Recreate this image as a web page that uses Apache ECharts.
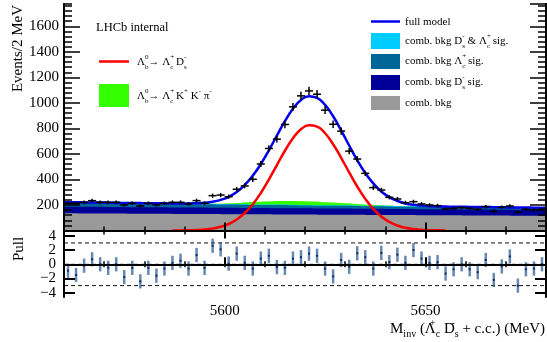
<!DOCTYPE html>
<html>
<head>
<meta charset="utf-8">
<script src="https://cdn.jsdelivr.net/npm/echarts@6.0.0/dist/echarts.min.js"></script>
<style>
  html, body { margin: 0; padding: 0; background: #fff; }
  #chart { width: 547px; height: 342px; }
</style>
</head>
<body>
<div id="chart"></div>
<script>
// Lambda_b -> Lambda_c Ds invariant mass fit with pull panel

// data: bin centres (2 MeV bins), event counts, pulls
const binCenters = [
  5561, 5563, 5565, 5567, 5569, 5571, 5573, 5575, 5577, 5579,
  5581, 5583, 5585, 5587, 5589, 5591, 5593, 5595, 5597, 5599,
  5601, 5603, 5605, 5607, 5609, 5611, 5613, 5615, 5617, 5619,
  5621, 5623, 5625, 5627, 5629, 5631, 5633, 5635, 5637, 5639,
  5641, 5643, 5645, 5647, 5649, 5651, 5653, 5655, 5657, 5659,
  5661, 5663, 5665, 5667, 5669, 5671, 5673, 5675, 5677, 5679
];
const eventCounts = [
  213, 213, 221, 234, 221, 221, 221, 200, 213, 192,
  213, 200, 213, 221, 221, 208, 234, 213, 273, 278,
  265, 323, 349, 401, 521, 643, 716, 831, 969, 1055,
  1094, 1068, 943, 833, 779, 622, 560, 448, 336, 317,
  260, 247, 218, 226, 208, 200, 195, 169, 174, 179,
  174, 166, 187, 153, 182, 192, 143, 166, 161, 166
];
const pullValues = [
  -0.9, -1.5, -0.2, 0.7, 0, -0.5, 0, -1.8, -0.5, -2.4,
  -0.5, -1.6, -0.6, 0.2, 0.5, -0.6, 1.3, -0.5, 2.6, 2.1,
  0.1, 1.5, 0.2, -0.6, 0.8, 1.2, -0.4, -0.5, 0.8, 1.0,
  1.5, 1.2, -0.6, -1.7, 0.6, -0.35, 1.55, 1.0, -0.6, 1.6,
  0.3, 1.35, 0.2, 2.0, 0.8, 0.2, 0.3, -1.3, -0.7, 0,
  -0.7, -1.1, 0.6, -2.2, -0.3, 1.1, -3.0, -0.7, -0.6, 0
];

// full model curve (blue)
const modelMass = [
  5560, 5561, 5563, 5565, 5567, 5569, 5571, 5573, 5575, 5577, 5579,
  5581, 5583, 5585, 5587, 5589, 5591, 5593, 5595, 5597, 5599,
  5601, 5603, 5605, 5607, 5609, 5611, 5613, 5615, 5617, 5619,
  5621, 5623, 5625, 5627, 5629, 5631, 5633, 5635, 5637, 5639,
  5641, 5643, 5645, 5647, 5649, 5651, 5653, 5655, 5657, 5659,
  5661, 5663, 5665, 5667, 5669, 5671, 5673, 5675, 5677, 5679, 5680
];
const fullModel = [
  222, 222, 221, 220, 219, 219, 218, 217, 216, 216, 215,
  214, 214, 213, 212, 212, 212, 214, 217, 225, 240,
  264, 302, 357, 430, 521, 628, 744, 857, 954, 1023,
  1053, 1040, 984, 895, 785, 666, 551, 451, 369, 306,
  261, 232, 212, 201, 195, 191, 189, 188, 186, 186,
  185, 184, 184, 183, 182, 181, 181, 180, 179, 178, 178
];

// signal component (red)
const signalMass = [
  5587, 5589, 5591, 5593, 5595, 5597, 5599, 5601, 5603, 5605,
  5607, 5609, 5611, 5613, 5615, 5617, 5619, 5621, 5623, 5625,
  5627, 5629, 5631, 5633, 5635, 5637, 5639, 5641, 5643, 5645,
  5647, 5649, 5651, 5653, 5655
];
const signalModel = [
  0.3, 0.8, 1.8, 3.9, 8, 15.7, 29, 51, 86, 137,
  206, 294, 399, 513, 625, 723, 793, 824, 814, 762,
  676, 570, 455, 345, 248, 169, 109, 67, 39, 21,
  11, 5.6, 2.6, 1.2, 0.5
];

// background components (4 MeV steps), stacked bottom to top
const bkgMass = [
  5560, 5564, 5568, 5572, 5576, 5580, 5584, 5588, 5592, 5596,
  5600, 5604, 5608, 5612, 5616, 5620, 5624, 5628, 5632, 5636,
  5640, 5644, 5648, 5652, 5656, 5660, 5664, 5668, 5672, 5676, 5680
];
const combBkg = [
  135, 134, 134, 133, 132, 132, 131, 130, 130, 129,
  128, 128, 127, 126, 126, 125, 124, 124, 123, 122,
  122, 121, 120, 120, 119, 118, 118, 117, 116, 116, 115
];
const combDsSig = [
  52, 52, 52, 51, 51, 51, 51, 50, 50, 50,
  50, 49, 49, 49, 49, 49, 48, 48, 48, 48,
  47, 47, 47, 47, 47, 46, 46, 46, 46, 46, 46
];
const combLcSig = [
  31, 31, 30, 30, 29, 28, 28, 27, 26, 26,
  25, 25, 24, 24, 23, 22, 22, 21, 21, 20,
  20, 19, 19, 18, 17, 17, 16, 16, 15, 14, 13
];
const combDsLcSig = [
  4, 4, 4, 4, 4, 4, 4, 4, 4, 4,
  4, 4, 4, 4, 4, 4, 4, 4, 4, 4,
  4, 4, 4, 4, 4, 4, 4, 4, 4, 4, 4
];
const partRecoBkg = [
  0, 0, 0, 0, 0, 0, 0, 0, 0, 0,
  4, 12, 21, 27, 30, 29, 26, 20, 13, 7,
  3, 1, 0, 0, 0, 0, 0, 0, 0, 0, 0
];
const bkgLayers = [combBkg, combDsSig, combLcSig, combDsLcSig, partRecoBkg];
const bkgColors = ["#999999", "#000099", "#006699", "#00ccff", "#33ff00"];

// axis ticks
const massTicks = [5600, 5650];
const pullTicks = [-4, -2, 0, 2, 4];
const pullLabelsA = [-4, 0, 4];
const pullLabelsB = [-2, 2];
const pullRefLines = [3, 0, -3];

const MASS_MIN = 5560, MASS_MAX = 5680, BIN_HALF = 1;
const MAIN_MAX = 1775, PULL_MIN = -4.6, PULL_MAX = 4.75;
const SERIF = "Liberation Serif";

const pairs = (xs, ys) => xs.map((x, i) => [x, ys[i]]);

// running totals of the background stack
const bkgTotals = [];
bkgLayers.reduce((run, layer) => {
  const next = run.map((v, i) => v + layer[i]);
  bkgTotals.push(next);
  return next;
}, bkgMass.map(() => 0));

// rich text styles for sub/superscripts
function makeRich(size) {
  const sm = Math.round(size * 0.64);
  const base = { fontFamily: SERIF, fill: "#000" };
  return {
    n: { ...base, fontSize: size, lineHeight: size + 6 },
    sup: { ...base, fontSize: sm, lineHeight: sm + 1, verticalAlign: "top" },
    sp: { ...base, fontSize: sm, lineHeight: sm + 1, verticalAlign: "top", width: 0 },
    sb: { ...base, fontSize: sm, lineHeight: sm + 1, verticalAlign: "bottom" },
  };
}
const richLegend = makeRich(11);
const richTitle = makeRich(15);

const plain = (v) => String(v);

// mass axes: minor ticks every 10 MeV, major ticks at labelled values
function massAxis(gridIndex, position, len, major, withLabels) {
  return {
    type: "value", gridIndex, position, min: MASS_MIN, max: MASS_MAX, z: 10,
    interval: major ? undefined : 10,
    axisLine: { show: !major, lineStyle: { color: "#000", width: 2 } },
    axisTick: major
      ? { show: true, inside: true, length: len, customValues: massTicks, lineStyle: { color: "#000", width: 2 } }
      : { show: true, inside: true, length: len, lineStyle: { color: "#000", width: 1.5 } },
    axisLabel: withLabels
      ? { show: true, customValues: massTicks, formatter: plain, fontFamily: SERIF, fontSize: 15, color: "#000", margin: 7 }
      : { show: false },
    splitLine: { show: false },
  };
}

function eventsAxis(position, interval, len, withLabels) {
  return {
    type: "value", gridIndex: 0, position, min: 0, max: MAIN_MAX, interval, z: 10,
    axisLine: { show: true, lineStyle: { color: "#000", width: 2 } },
    axisTick: { show: true, inside: true, length: len, lineStyle: { color: "#000", width: 1.5 } },
    axisLabel: withLabels
      ? {
          show: true, formatter: plain, fontFamily: SERIF, fontSize: 15, color: "#000", margin: 5,
          showMinLabel: false, showMaxLabel: false,
        }
      : { show: false },
    splitLine: { show: false },
  };
}

// pull axes; labels split over two overlapping axes so none get pruned
function pullAxis(position, labels, withFrame) {
  return {
    type: "value", gridIndex: 1, position, min: PULL_MIN, max: PULL_MAX, z: 10,
    axisLine: { show: withFrame, lineStyle: { color: "#000", width: 2 } },
    axisTick: { show: withFrame, inside: true, length: 11, customValues: pullTicks, lineStyle: { color: "#000", width: 2 } },
    axisLabel: labels
      ? {
          show: true, customValues: labels, fontFamily: SERIF, fontSize: 15,
          color: "#000", margin: 8, showMinLabel: true, showMaxLabel: true,
          formatter: (v) => (v < 0 ? "\u2212" + Math.abs(v) : String(v)),
        }
      : { show: false },
    splitLine: { show: false },
  };
}

// draw totals from the top layer down so each colour shows its own band
const bkgSeries = bkgTotals
  .map((tot, k) => ({
    type: "line", xAxisIndex: 0, yAxisIndex: 0, silent: true,
    data: pairs(bkgMass, tot), smooth: true, symbol: "none",
    lineStyle: { width: 0 }, areaStyle: { color: bkgColors[k], opacity: 1, origin: "start" }, z: 2,
  }))
  .reverse();

const chart = echarts.init(document.getElementById("chart"), null, { renderer: "canvas" });

chart.setOption({
  animation: false,
  backgroundColor: "#fff",
  grid: [
    { left: 64, right: 1, top: 4, height: 226.5 },
    { left: 64, right: 1, top: 230.5, height: 66.5 },
  ],
  xAxis: [
    massAxis(0, "bottom", 4, false, false),
    massAxis(0, "bottom", 8, true, false),
    massAxis(0, "top", 4, false, false),
    massAxis(0, "top", 8, true, false),
    massAxis(1, "bottom", 3, false, false),
    massAxis(1, "bottom", 7, true, true),
    massAxis(1, "top", 3, false, false),
    massAxis(1, "top", 7, true, false),
  ],
  yAxis: [
    eventsAxis("left", 200, 16, true),
    eventsAxis("left", 40, 8, false),
    eventsAxis("right", 200, 16, false),
    eventsAxis("right", 40, 8, false),
    pullAxis("left", pullLabelsA, true),
    pullAxis("right", null, true),
    pullAxis("left", pullLabelsB, false),
  ],
  series: [
    ...bkgSeries,
    // signal and full model curves
    {
      name: "signal", type: "line", xAxisIndex: 0, yAxisIndex: 0,
      data: pairs(signalMass, signalModel), smooth: true, symbol: "none",
      lineStyle: { color: "#ff0000", width: 2.5 }, z: 3, silent: true,
    },
    {
      name: "full model", type: "line", xAxisIndex: 0, yAxisIndex: 0,
      data: pairs(modelMass, fullModel), smooth: true, symbol: "none",
      lineStyle: { color: "#0000ee", width: 2.5 }, z: 4, silent: true,
    },
    // data points with poisson error crosses
    {
      name: "data", type: "custom", xAxisIndex: 0, yAxisIndex: 0, z: 5, silent: true,
      data: pairs(binCenters, eventCounts),
      renderItem: (params, api) => {
        const m = api.value(0), n = api.value(1), e = Math.sqrt(n);
        const c = api.coord([m, n]);
        const l = api.coord([m - BIN_HALF, n]);
        const r = api.coord([m + BIN_HALF, n]);
        const t = api.coord([m, n + e]);
        const b = api.coord([m, n - e]);
        const st = { stroke: "#000", lineWidth: 1.5 };
        return {
          type: "group",
          children: [
            { type: "line", shape: { x1: l[0], y1: c[1], x2: r[0], y2: c[1] }, style: st },
            { type: "line", shape: { x1: c[0], y1: t[1], x2: c[0], y2: b[1] }, style: st },
          ],
        };
      },
    },
    // pull panel reference lines
    ...pullRefLines.map((v) => ({
      type: "line", xAxisIndex: 4, yAxisIndex: 4, silent: true, symbol: "none",
      data: [[MASS_MIN, v], [MASS_MAX, v]],
      lineStyle: { color: v === 0 ? "#444" : "#111", width: 1, type: [4, 3] }, z: 2,
    })),
    // pulls with unit error bars
    {
      name: "pull", type: "custom", xAxisIndex: 4, yAxisIndex: 4, z: 5, silent: true,
      data: pairs(binCenters, pullValues),
      renderItem: (params, api) => {
        const m = api.value(0), p = api.value(1);
        const c = api.coord([m, p]);
        const t = api.coord([m, p + 1]);
        const b = api.coord([m, p - 1]);
        return {
          type: "group",
          children: [
            { type: "line", shape: { x1: c[0], y1: t[1], x2: c[0], y2: b[1] }, style: { stroke: "rgba(40,85,145,0.7)", lineWidth: 2.5 } },
            { type: "rect", shape: { x: c[0] - 1, y: c[1] - 1, width: 2, height: 2 }, style: { fill: "#0a2f66" } },
          ],
        };
      },
    },
  ],
  graphic: [
    // axis titles
    {
      type: "text", x: 18, y: 5, rotation: Math.PI / 2,
      style: { text: "Events/2 MeV", fontFamily: SERIF, fontSize: 15, fill: "#000", align: "right", verticalAlign: "middle" },
    },
    {
      type: "text", x: 19, y: 249, rotation: Math.PI / 2,
      style: { text: "Pull", fontFamily: SERIF, fontSize: 15, fill: "#000", align: "center", verticalAlign: "middle" },
    },
    {
      type: "text", x: 545, y: 329,
      style: {
        text: "{n|M}{sb|inv}{n| (Λ}{sp|+}{sb|c}{n| D}{sp|-}{sb|s}{n| + c.c.) (MeV)}",
        rich: richTitle, align: "right", verticalAlign: "middle",
      },
    },
    // left legend
    {
      type: "text", x: 96, y: 28,
      style: { text: "LHCb internal", fontFamily: SERIF, fontSize: 12.5, fill: "#000", verticalAlign: "middle" },
    },
    { type: "line", shape: { x1: 99, y1: 61.5, x2: 129, y2: 61.5 }, style: { stroke: "#ff0000", lineWidth: 2.5 } },
    {
      type: "text", x: 137, y: 62,
      style: { text: "{n|Λ}{sp|0}{sb|b}{n|→ Λ}{sp|+}{sb|c}{n| D}{sp|-}{sb|s}", rich: richLegend, verticalAlign: "middle" },
    },
    { type: "rect", shape: { x: 99, y: 84, width: 30, height: 23 }, style: { fill: "#33ff00" } },
    {
      type: "text", x: 137, y: 96,
      style: {
        text: "{n|Λ}{sp|0}{sb|b}{n|→ Λ}{sp|+}{sb|c}{n| K}{sup|+}{n| K}{sup|-}{n| π}{sup|-}",
        rich: richLegend, verticalAlign: "middle",
      },
    },
    // right legend
    { type: "line", shape: { x1: 371, y1: 21.5, x2: 400, y2: 21.5 }, style: { stroke: "#0000ee", lineWidth: 2.5 } },
    { type: "text", x: 405, y: 22, style: { text: "{n|full model}", rich: richLegend, verticalAlign: "middle" } },
    { type: "rect", shape: { x: 371, y: 33, width: 29, height: 16 }, style: { fill: "#00ccff" } },
    {
      type: "text", x: 405, y: 41,
      style: { text: "{n|comb. bkg D}{sp|-}{sb|s}{n| & Λ}{sp|+}{sb|c}{n| sig.}", rich: richLegend, verticalAlign: "middle" },
    },
    { type: "rect", shape: { x: 371, y: 54, width: 29, height: 15 }, style: { fill: "#006699" } },
    {
      type: "text", x: 405, y: 61.5,
      style: { text: "{n|comb. bkg Λ}{sp|+}{sb|c}{n| sig.}", rich: richLegend, verticalAlign: "middle" },
    },
    { type: "rect", shape: { x: 371, y: 75, width: 29, height: 15 }, style: { fill: "#000099" } },
    {
      type: "text", x: 405, y: 82.5,
      style: { text: "{n|comb. bkg D}{sp|-}{sb|s}{n| sig.}", rich: richLegend, verticalAlign: "middle" },
    },
    { type: "rect", shape: { x: 371, y: 96, width: 29, height: 14 }, style: { fill: "#999999" } },
    { type: "text", x: 405, y: 103, style: { text: "{n|comb. bkg}", rich: richLegend, verticalAlign: "middle" } },
  ],
});
</script>
</body>
</html>
